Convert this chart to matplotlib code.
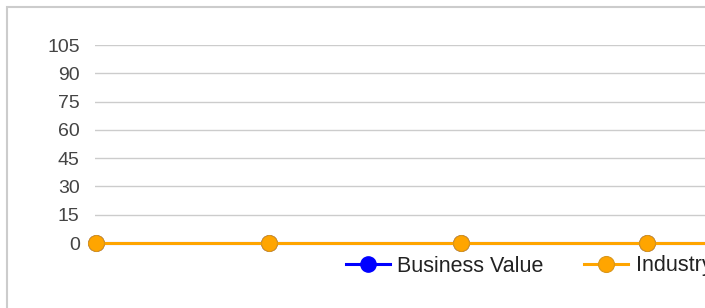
import datetime as dt
import matplotlib.pyplot as plt
import matplotlib.dates as mdates
from matplotlib.patches import Rectangle

dates = [dt.date(2023, 2, 1), dt.date(2023, 3, 1), dt.date(2023, 4, 1),
         dt.date(2023, 5, 1), dt.date(2023, 6, 1)]
business_value = [0, 0, 0, 0, 0]
industry = [0, 0, 0, 0, 0]
y_ticks = [0, 15, 30, 45, 60, 75, 90, 105]

plt.rcParams['font.family'] = ['Liberation Sans', 'DejaVu Sans']

W, H = 705, 308
fig = plt.figure(figsize=(W / 100, H / 100), dpi=100)

# outer card border (clipped at right and bottom like the reference)
fig.patches.append(Rectangle((7 / W, -0.2), 2.0, 1 - 7 / H + 0.2, transform=fig.transFigure,
                             fill=False, edgecolor='#cccccc', linewidth=1.5))

x0, x1 = 95, 705
y_top, y_bot = 45, 243
ax = fig.add_axes([x0 / W, 1 - y_bot / H, (x1 - x0) / W, (y_bot - y_top) / H])

ax.plot(dates, business_value, color='#0000ff', lw=2.2, marker='o', ms=11,
        markeredgecolor='#0000ff', clip_on=False, zorder=3, label='Business Value')
ax.plot(dates, industry, color='#ffa500', lw=2.2, marker='o', ms=11.5,
        markeredgecolor='#d9961a', markeredgewidth=0.8, clip_on=False, zorder=4, label='Industry')

px_per_day = (647 - 96) / 89
left = mdates.date2num(dates[0]) - 1 / px_per_day
right = left + (x1 - x0) / px_per_day
ax.set_xlim(left, right)
ax.set_ylim(0, 105)
ax.set_yticks(y_ticks)
ax.set_xticks([])
ax.tick_params(axis='y', length=0, pad=11, labelsize=14, labelcolor='#444444')
ax.grid(axis='y', color='#cccccc', lw=1)
ax.set_axisbelow(True)
for s in ax.spines.values():
    s.set_visible(False)

leg = fig.legend(loc='center left', bbox_to_anchor=(337 / W, 1 - 266 / H), ncol=2,
                 frameon=False, fontsize=15.5, handlelength=2.05, handletextpad=0.35,
                 columnspacing=1.88, labelcolor='#222222', borderaxespad=0)

plt.savefig('out.png', dpi=100)
